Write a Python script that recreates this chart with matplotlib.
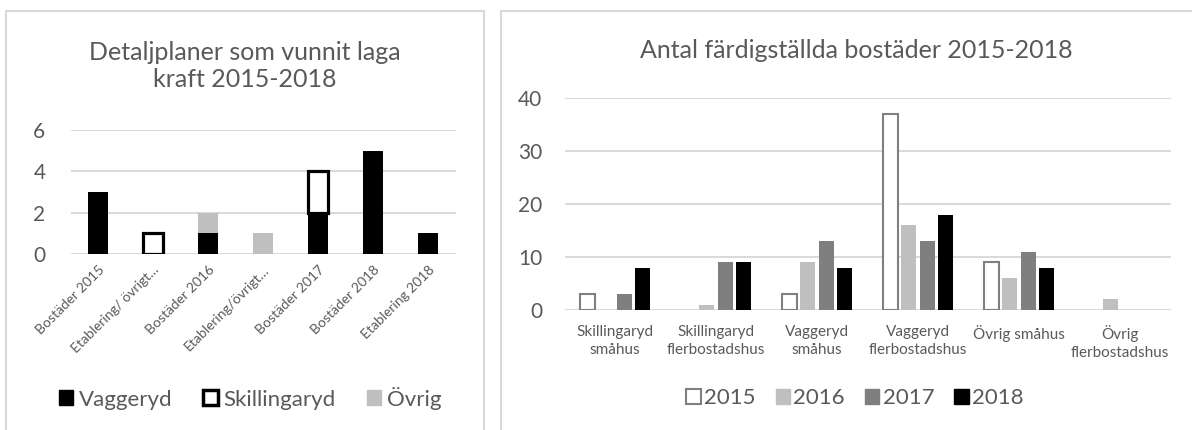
import numpy as np
import matplotlib.pyplot as plt
from matplotlib.patches import Rectangle, Patch

plt.rcParams['font.family'] = ['Lato', 'DejaVu Sans']

TEXT = "#595959"
GRID = "#d9d9d9"

# vänster diagram: detaljplaner
plan_kat = ["Bostäder 2015", "Etablering/ övrigt…", "Bostäder 2016", "Etablering/övrigt…",
            "Bostäder 2017", "Bostäder 2018", "Etablering 2018"]
vaggeryd = [3, 0, 1, 0, 2, 5, 1]
skillingaryd = [0, 1, 0, 0, 2, 0, 0]
ovrig = [0, 0, 1, 1, 0, 0, 0]

# höger diagram: färdigställda bostäder
bost_kat = ["Skillingaryd\nsmåhus", "Skillingaryd\nflerbostadshus", "Vaggeryd\nsmåhus",
            "Vaggeryd\nflerbostadshus", "Övrig småhus", "Övrig\nflerbostadshus"]
ar = ["2015", "2016", "2017", "2018"]
v2015 = [3, 0, 3, 37, 9, 0]
v2016 = [0, 1, 9, 16, 6, 2]
v2017 = [3, 9, 13, 13, 11, 0]
v2018 = [8, 9, 8, 18, 8, 0]

W, H = 1192, 430
fig = plt.figure(figsize=(W / 100, H / 100), dpi=100)

# ramar runt diagrammen
fig.patches.append(Rectangle((6 / W, -0.1), 478 / W, 1.1 - 11 / H, transform=fig.transFigure,
                             fill=False, edgecolor=GRID, lw=1.5))
fig.patches.append(Rectangle((501 / W, -0.1), 1.0, 1.1 - 11 / H, transform=fig.transFigure,
                             fill=False, edgecolor=GRID, lw=1.5))


def style_ax(ax, ypad):
    for s in ax.spines.values():
        s.set_visible(False)
    ax.yaxis.grid(True, color=GRID, lw=1.4)
    ax.set_axisbelow(True)
    ax.tick_params(length=0, colors=TEXT)
    ax.tick_params(axis='y', labelsize=15, pad=ypad)


def draw_bars(ax, x, vals, bottom, width, **kw):
    vals = np.asarray(vals, dtype=float)
    m = vals > 0
    ax.bar(x[m], vals[m], width, bottom=np.asarray(bottom)[m], **kw)


# --- vänster ---
ax1 = fig.add_axes([70.5 / W, (H - 254) / H, 385 / W, 124 / H])
style_ax(ax1, 18)
x1 = np.arange(len(plan_kat))
b = np.zeros(len(plan_kat))
draw_bars(ax1, x1, vaggeryd, b, 0.38, color="black", zorder=3)
b = b + vaggeryd
draw_bars(ax1, x1, skillingaryd, b, 0.38, facecolor="white", edgecolor="black", lw=2.3, zorder=3)
b = b + skillingaryd
draw_bars(ax1, x1, ovrig, b, 0.38, color="#bfbfbf", zorder=3)
ax1.set_xlim(-0.5, len(plan_kat) - 0.5)
ax1.set_ylim(0, 6)
ax1.set_yticks([0, 2, 4, 6])
ax1.set_xticks(x1)
ax1.set_xticklabels(plan_kat, rotation=45, ha='right', rotation_mode='anchor', fontsize=10, color=TEXT)
ax1.tick_params(axis='x', pad=7)
fig.text(245 / W, 1 - 66 / H, "Detaljplaner som vunnit laga\nkraft 2015-2018", ha='center', va='center',
         fontsize=18, color=TEXT, linespacing=1.25)
h1 = [Patch(facecolor="black", edgecolor="black"),
      Patch(facecolor="white", edgecolor="black", lw=2.5),
      Patch(facecolor="#bfbfbf", edgecolor="#bfbfbf")]
fig.legend(h1, ["Vaggeryd", "Skillingaryd", "Övrig"], loc='center', bbox_to_anchor=(250 / W, 1 - 398 / H),
           ncol=3, frameon=False, fontsize=16, labelcolor=TEXT, handlelength=0.65, handleheight=0.65,
           handletextpad=0.25, columnspacing=1.4)

# --- höger ---
ax2 = fig.add_axes([564.5 / W, (H - 310) / H, 606 / W, 212 / H])
style_ax(ax2, 16)
x2 = np.arange(len(bost_kat))
serier = [v2015, v2016, v2017, v2018]
stil = [dict(facecolor="white", edgecolor="#7f7f7f", lw=1.5),
        dict(color="#bfbfbf"), dict(color="#7f7f7f"), dict(color="black")]
steg, bredd = 0.183, 0.15
zero = np.zeros(len(bost_kat))
for i, (v, st) in enumerate(zip(serier, stil)):
    draw_bars(ax2, x2 + (i - 1.5) * steg, v, zero, bredd, zorder=3, **st)
ax2.set_xlim(-0.5, len(bost_kat) - 0.5)
ax2.set_ylim(0, 40)
ax2.set_yticks([0, 10, 20, 30, 40])
ax2.set_xticks(x2)
ax2.set_xticklabels(bost_kat, fontsize=11, color=TEXT, linespacing=1.35, va='top')
ax2.tick_params(axis='x', pad=11)
fig.text(856 / W, 1 - 50 / H, "Antal färdigställda bostäder 2015-2018", ha='center', va='center',
         fontsize=18, color=TEXT)
h2 = [Patch(**stil[0]), Patch(color="#bfbfbf"), Patch(color="#7f7f7f"), Patch(color="black")]
fig.legend(h2, ar, loc='center', bbox_to_anchor=(855 / W, 1 - 398 / H), ncol=4, frameon=False,
           fontsize=16, labelcolor=TEXT, handlelength=0.65, handleheight=0.65, handletextpad=0.15,
           columnspacing=0.9)

fig.savefig("out.png", dpi=100)
